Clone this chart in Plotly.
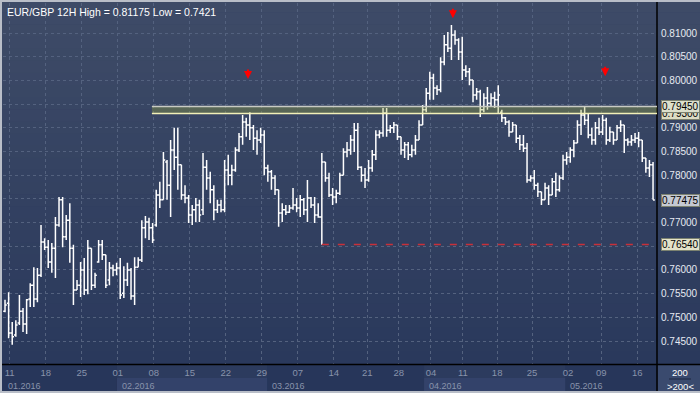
import plotly.graph_objects as go

# ---------------- data (EUR/GBP, 12H bars) ----------------
open_ = [0.7513,0.7530,0.7467,0.7463,0.7488,0.7513,0.7486,0.7539,0.7568,0.7539,
         0.7589,0.7659,0.7648,0.7617,0.7646,0.7695,0.7748,0.7670,0.7705,0.7646,
         0.7558,0.7568,0.7600,0.7558,0.7646,0.7568,0.7617,0.7653,0.7632,0.7579,
         0.7604,0.7600,0.7604,0.7551,0.7579,0.7600,0.7545,0.7606,0.7621,0.7689,
         0.7701,0.7689,0.7695,0.7758,0.7748,0.7828,0.7779,0.7853,0.7838,0.7822,
         0.7758,0.7752,0.7716,0.7727,0.7737,0.7727,0.7817,0.7794,0.7769,0.7727,
         0.7737,0.7727,0.7811,0.7800,0.7811,0.7853,0.7881,0.7912,0.7906,0.7900,
         0.7878,0.7874,0.7885,0.7815,0.7807,0.7794,0.7769,0.7720,0.7727,0.7722,
         0.7731,0.7737,0.7731,0.7748,0.7727,0.7752,0.7737,0.7716,0.7712,0.7828,
         0.7794,0.7758,0.7754,0.7762,0.7800,0.7849,0.7853,0.7874,0.7895,0.7817,
         0.7800,0.7790,0.7815,0.7843,0.7885,0.7889,0.7931,0.7895,0.7900,0.7906,
         0.7881,0.7853,0.7864,0.7843,0.7853,0.7874,0.7906,0.7938,0.7973,0.8005,
         0.7984,0.7980,0.8039,0.8075,0.8068,0.8096,0.8085,0.8060,0.8022,0.8018,
         0.8001,0.7969,0.7976,0.7938,0.7963,0.7952,0.7963,0.7959,0.7933,0.7921,
         0.7912,0.7891,0.7906,0.7878,0.7864,0.7857,0.7790,0.7794,0.7779,0.7765,
         0.7748,0.7773,0.7758,0.7786,0.7769,0.7794,0.7832,0.7838,0.7853,0.7868,
         0.7906,0.7927,0.7916,0.7885,0.7874,0.7900,0.7891,0.7916,0.7874,0.7891,
         0.7874,0.7900,0.7906,0.7874,0.7870,0.7874,0.7878,0.7874,0.7836,0.7815,
         0.7822]
high = [0.7537,0.7553,0.7490,0.7494,0.7547,0.7520,0.7539,0.7572,0.7606,0.7604,
        0.7695,0.7667,0.7663,0.7657,0.7712,0.7754,0.7754,0.7716,0.7741,0.7653,
        0.7579,0.7617,0.7625,0.7663,0.7646,0.7594,0.7663,0.7663,0.7632,0.7617,
        0.7611,0.7615,0.7625,0.7608,0.7615,0.7604,0.7627,0.7627,0.7705,0.7714,
        0.7710,0.7699,0.7769,0.7786,0.7849,0.7832,0.7874,0.7900,0.7900,0.7822,
        0.7779,0.7758,0.7737,0.7752,0.7748,0.7847,0.7832,0.7807,0.7779,0.7748,
        0.7748,0.7832,0.7843,0.7822,0.7859,0.7889,0.7927,0.7921,0.7933,0.7906,
        0.7895,0.7900,0.7895,0.7822,0.7811,0.7800,0.7769,0.7741,0.7737,0.7737,
        0.7773,0.7752,0.7758,0.7752,0.7790,0.7754,0.7754,0.7741,0.7847,0.7828,
        0.7805,0.7773,0.7769,0.7805,0.7857,0.7870,0.7885,0.7910,0.7910,0.7819,
        0.7815,0.7832,0.7853,0.7895,0.7895,0.7942,0.7942,0.7906,0.7912,0.7906,
        0.7881,0.7870,0.7870,0.7864,0.7885,0.7916,0.7948,0.7984,0.8018,0.8014,
        0.7990,0.8049,0.8096,0.8102,0.8117,0.8106,0.8089,0.8092,0.8032,0.8026,
        0.8001,0.7984,0.7980,0.7973,0.7986,0.7973,0.7976,0.7990,0.7938,0.7923,
        0.7916,0.7912,0.7906,0.7885,0.7885,0.7868,0.7800,0.7811,0.7784,0.7765,
        0.7784,0.7779,0.7794,0.7805,0.7800,0.7843,0.7849,0.7859,0.7874,0.7916,
        0.7938,0.7946,0.7931,0.7900,0.7912,0.7921,0.7927,0.7921,0.7902,0.7891,
        0.7906,0.7916,0.7906,0.7878,0.7885,0.7889,0.7891,0.7874,0.7836,0.7832,
        0.7828]
low = [0.7511,0.7456,0.7442,0.7459,0.7484,0.7469,0.7465,0.7522,0.7522,0.7532,
       0.7585,0.7642,0.7604,0.7594,0.7583,0.7691,0.7648,0.7663,0.7615,0.7526,
       0.7558,0.7543,0.7547,0.7549,0.7558,0.7562,0.7615,0.7621,0.7562,0.7568,
       0.7587,0.7589,0.7539,0.7541,0.7566,0.7537,0.7526,0.7606,0.7617,0.7667,
       0.7663,0.7657,0.7691,0.7731,0.7748,0.7748,0.7712,0.7811,0.7769,0.7748,
       0.7741,0.7699,0.7695,0.7701,0.7701,0.7716,0.7769,0.7741,0.7705,0.7720,
       0.7722,0.7722,0.7779,0.7779,0.7807,0.7849,0.7864,0.7881,0.7874,0.7853,
       0.7843,0.7868,0.7800,0.7786,0.7769,0.7758,0.7691,0.7701,0.7716,0.7720,
       0.7727,0.7722,0.7712,0.7716,0.7701,0.7731,0.7699,0.7710,0.7653,0.7786,
       0.7754,0.7737,0.7741,0.7758,0.7800,0.7838,0.7843,0.7849,0.7811,0.7786,
       0.7773,0.7786,0.7807,0.7832,0.7878,0.7881,0.7881,0.7889,0.7889,0.7874,
       0.7843,0.7836,0.7832,0.7838,0.7843,0.7874,0.7906,0.7933,0.7959,0.7959,
       0.7969,0.7975,0.8032,0.8060,0.8043,0.8075,0.8043,0.8001,0.8007,0.7990,
       0.7954,0.7959,0.7923,0.7933,0.7938,0.7944,0.7942,0.7931,0.7912,0.7906,
       0.7881,0.7891,0.7868,0.7853,0.7849,0.7784,0.7786,0.7769,0.7754,0.7737,
       0.7748,0.7737,0.7758,0.7754,0.7765,0.7790,0.7822,0.7826,0.7838,0.7868,
       0.7885,0.7906,0.7878,0.7864,0.7864,0.7885,0.7885,0.7864,0.7870,0.7864,
       0.7874,0.7891,0.7847,0.7862,0.7862,0.7868,0.7859,0.7828,0.7805,0.7796,
       0.7748]
close = [0.7526,0.7467,0.7459,0.7484,0.7513,0.7486,0.7537,0.7568,0.7539,0.7589,
         0.7659,0.7648,0.7617,0.7646,0.7695,0.7748,0.7670,0.7705,0.7646,0.7558,
         0.7568,0.7600,0.7558,0.7646,0.7568,0.7589,0.7653,0.7632,0.7568,0.7604,
         0.7600,0.7604,0.7547,0.7579,0.7600,0.7545,0.7606,0.7621,0.7689,0.7701,
         0.7689,0.7663,0.7758,0.7748,0.7832,0.7779,0.7853,0.7838,0.7822,0.7758,
         0.7752,0.7716,0.7727,0.7737,0.7716,0.7817,0.7794,0.7769,0.7727,0.7737,
         0.7727,0.7811,0.7800,0.7811,0.7853,0.7881,0.7912,0.7906,0.7900,0.7878,
         0.7874,0.7885,0.7815,0.7807,0.7794,0.7769,0.7720,0.7727,0.7722,0.7731,
         0.7737,0.7731,0.7748,0.7727,0.7752,0.7737,0.7716,0.7712,0.7828,0.7794,
         0.7758,0.7754,0.7762,0.7800,0.7849,0.7853,0.7874,0.7895,0.7817,0.7800,
         0.7790,0.7815,0.7843,0.7885,0.7889,0.7931,0.7895,0.7900,0.7906,0.7881,
         0.7853,0.7864,0.7843,0.7853,0.7874,0.7906,0.7938,0.7973,0.8005,0.7984,
         0.7980,0.8039,0.8075,0.8068,0.8096,0.8085,0.8060,0.8022,0.8018,0.8001,
         0.7969,0.7976,0.7938,0.7963,0.7952,0.7963,0.7959,0.7969,0.7921,0.7912,
         0.7891,0.7906,0.7878,0.7864,0.7857,0.7790,0.7794,0.7779,0.7765,0.7748,
         0.7773,0.7758,0.7786,0.7769,0.7794,0.7832,0.7838,0.7853,0.7868,0.7906,
         0.7927,0.7916,0.7885,0.7874,0.7900,0.7891,0.7916,0.7874,0.7891,0.7874,
         0.7900,0.7906,0.7874,0.7870,0.7874,0.7878,0.7874,0.7836,0.7815,0.7822,
         0.77475]

day_labels = ["11","18","25","01","08","15","22","29","07","14",
              "21","28","04","11","18","25","02","09","16"]
day_bar_idx = [1.3,11.3,21.3,31.3,41.3,51.3,61.3,71.3,81.3,91.3,
               100.6,109.4,118.3,127.2,136.7,146.4,156.4,165.6,175.6]
month_labels = ["01.2016","02.2016","03.2016","04.2016","05.2016"]
month_start_idx = [-0.6, 31.1, 72.8, 116.4, 155.6]

y_ticks = [0.745,0.75,0.755,0.76,0.765,0.77,0.775,0.78,0.785,0.79,0.795,0.80,0.805,0.81]

band_low, band_high = 0.7930, 0.7945
band_start_idx = 40.8
support_level = 0.7654
support_start_idx = 88
last_price = 0.77475
arrow_idx = [67.5, 124.4, 166.7]
arrow_price = [0.8003, 0.8131, 0.8009]
title_text = "EUR/GBP 12H High = 0.81175 Low = 0.7421"

# ---------------- figure ----------------
W, H = 700, 393
L, R, T, B = 3, 43, 3, 29
pw, ph = W - L - R, H - T - B
XR = [-0.56, 181.1]
YR = [0.74016, 0.81633]

def px_x(p):  # pixel -> paper x
    return (p - L) / pw
def px_y(p):  # pixel -> paper y
    return (H - B - p) / ph

idx = list(range(len(close)))
fig = go.Figure()
fig.add_trace(go.Ohlc(x=idx, open=open_, high=high, low=low, close=close,
                      increasing_line_color="#ffffff", decreasing_line_color="#ffffff",
                      line_width=1.5, tickwidth=0.5, hoverinfo="skip", showlegend=False))

shapes = []
# gradient background (plot + price axis)
top_c = (62, 75, 103)
bot_c = (42, 57, 92)
n = 30
for k in range(n):
    t = k / (n - 1)
    c = tuple(int(round(top_c[j] + (bot_c[j] - top_c[j]) * t)) for j in range(3))
    y0 = 364 * k / n
    y1 = 364 * (k + 1) / n + 0.6
    shapes.append(dict(type="rect", xref="paper", yref="paper", layer="below",
                       x0=px_x(0), x1=px_x(700), y0=px_y(y1), y1=px_y(y0),
                       fillcolor="rgb(%d,%d,%d)" % c, line_width=0))
# x-axis strip base
shapes.append(dict(type="rect", xref="paper", yref="paper", layer="below",
                   x0=px_x(0), x1=px_x(657), y0=px_y(393), y1=px_y(364),
                   fillcolor="#27365a", line_width=0))
# month bands (alternating)
for m in range(len(month_labels)):
    xs = month_start_idx[m]
    xe = month_start_idx[m + 1] if m + 1 < len(month_start_idx) else XR[1]
    if m % 2 == 1:
        shapes.append(dict(type="rect", xref="x", yref="paper", layer="below",
                           x0=xs, x1=xe, y0=px_y(393), y1=px_y(364),
                           fillcolor="#2c3b5e", line_width=0))
        shapes.append(dict(type="rect", xref="x", yref="paper", layer="below",
                           x0=xs, x1=xe, y0=px_y(391), y1=px_y(378),
                           fillcolor="#33426a", line_width=0))
# corner box
shapes.append(dict(type="rect", xref="paper", yref="paper", layer="below",
                   x0=px_x(658), x1=px_x(700), y0=px_y(393), y1=px_y(364),
                   fillcolor="#3a4a6e", line_width=0))
shapes.append(dict(type="line", xref="paper", yref="paper",
                   x0=px_x(669), x1=px_x(691), y0=px_y(379), y1=px_y(379),
                   line=dict(color="#1c2740", width=1)))
# separators
shapes.append(dict(type="line", xref="paper", yref="paper",
                   x0=px_x(0), x1=px_x(700), y0=px_y(364.5), y1=px_y(364.5),
                   line=dict(color="#000000", width=1.5)))
shapes.append(dict(type="line", xref="paper", yref="paper",
                   x0=px_x(657), x1=px_x(657), y0=px_y(393), y1=px_y(0),
                   line=dict(color="#000000", width=1.5)))
# resistance band
shapes.append(dict(type="rect", xref="x", yref="y", layer="above",
                   x0=band_start_idx, x1=XR[1], y0=band_low, y1=band_high,
                   fillcolor="rgba(160,175,60,0.32)", line_width=0))
shapes.append(dict(type="line", xref="x", yref="y",
                   x0=band_start_idx, x1=XR[1], y0=band_high, y1=band_high,
                   line=dict(color="#c9cbc4", width=1.5)))
shapes.append(dict(type="line", xref="x", yref="y",
                   x0=band_start_idx, x1=XR[1], y0=band_low, y1=band_low,
                   line=dict(color="#f2f0b8", width=1.5)))
# support dashed line
shapes.append(dict(type="line", xref="x", yref="y",
                   x0=support_start_idx, x1=XR[1], y0=support_level, y1=support_level,
                   line=dict(color="#c8303a", width=1.5, dash="7px,9px")))
# outer frame
for (x0, x1, y0, y1) in [(0, 700, 0, 2), (0, 2, 0, 393), (0, 700, 391, 393)]:
    shapes.append(dict(type="rect", xref="paper", yref="paper",
                       x0=px_x(x0), x1=px_x(x1), y0=px_y(y1), y1=px_y(y0),
                       fillcolor="#b9bec8", line_width=0))

ann = []
ann.append(dict(text=title_text, xref="paper", yref="paper", x=px_x(5), y=px_y(4),
                xanchor="left", yanchor="top", showarrow=False,
                font=dict(family="Liberation Sans", size=10.5, color="#ffffff")))
for i, p in zip(arrow_idx, arrow_price):
    ann.append(dict(x=i, y=p, xref="x", yref="y", text="", showarrow=True,
                    ax=0, ay=-11, arrowhead=2, arrowsize=0.8, arrowwidth=2,
                    arrowcolor="#ff0000", standoff=0))
# month labels
for lab, s in zip(month_labels, month_start_idx):
    ann.append(dict(text=lab, x=max(s, XR[0]), xref="x", yref="paper", y=px_y(386),
                    xanchor="left", yanchor="middle", xshift=3, showarrow=False,
                    font=dict(family="Liberation Sans", size=9, color="#8893ab")))
# price tags
def tag(val, txt, bg, ypx_shift=0):
    ann.append(dict(text=txt, xref="paper", yref="y", x=px_x(661), y=val,
                    xanchor="left", yanchor="middle", yshift=ypx_shift, showarrow=False,
                    bgcolor=bg, bordercolor="#7c8270", borderwidth=1, borderpad=0,
                    font=dict(family="Liberation Sans", size=10, color="#000000")))
tag(band_low, "0.79300", "#dcdcc4")
tag(band_high, "0.79450", "#dde0cc")
tag(last_price, "0.77475", "#c5c9d2")
tag(support_level, "0.76540", "#e4e2c8")
# corner
ann.append(dict(text="200", xref="paper", yref="paper", x=px_x(680), y=px_y(372),
                xanchor="center", yanchor="middle", showarrow=False,
                font=dict(family="Liberation Sans", size=9.5, color="#ffffff")))
ann.append(dict(text=">200<", xref="paper", yref="paper", x=px_x(680), y=px_y(386),
                xanchor="center", yanchor="middle", showarrow=False,
                font=dict(family="Liberation Sans", size=9.5, color="#ffffff")))

fig.update_layout(
    width=W, height=H, autosize=False,
    margin=dict(l=L, r=R, t=T, b=B, pad=0),
    paper_bgcolor="#2c3b5e", plot_bgcolor="rgba(0,0,0,0)",
    shapes=shapes, annotations=ann, showlegend=False,
    xaxis=dict(range=XR, rangeslider=dict(visible=False), tickmode="array",
               tickvals=day_bar_idx, ticktext=day_labels, showgrid=True,
               gridcolor="#54627f", griddash="3px,3px", gridwidth=1,
               zeroline=False, showline=False, ticks="", ticklabelstandoff=1,
               tickfont=dict(family="Liberation Sans", size=9.5, color="#8893ab")),
    yaxis=dict(range=YR, side="right", tickmode="array", tickvals=y_ticks,
               ticktext=["%.5f" % v for v in y_ticks], showgrid=True,
               gridcolor="#54627f", griddash="3px,3px", gridwidth=1,
               zeroline=False, showline=False, ticks="", ticklabelstandoff=3,
               automargin=False,
               tickfont=dict(family="Liberation Sans", size=10, color="#e6eaf2")),
)
fig.write_html("out.html", config={"displayModeBar": False},
               post_script="document.body.style.margin='0';document.body.style.overflow='hidden';")
